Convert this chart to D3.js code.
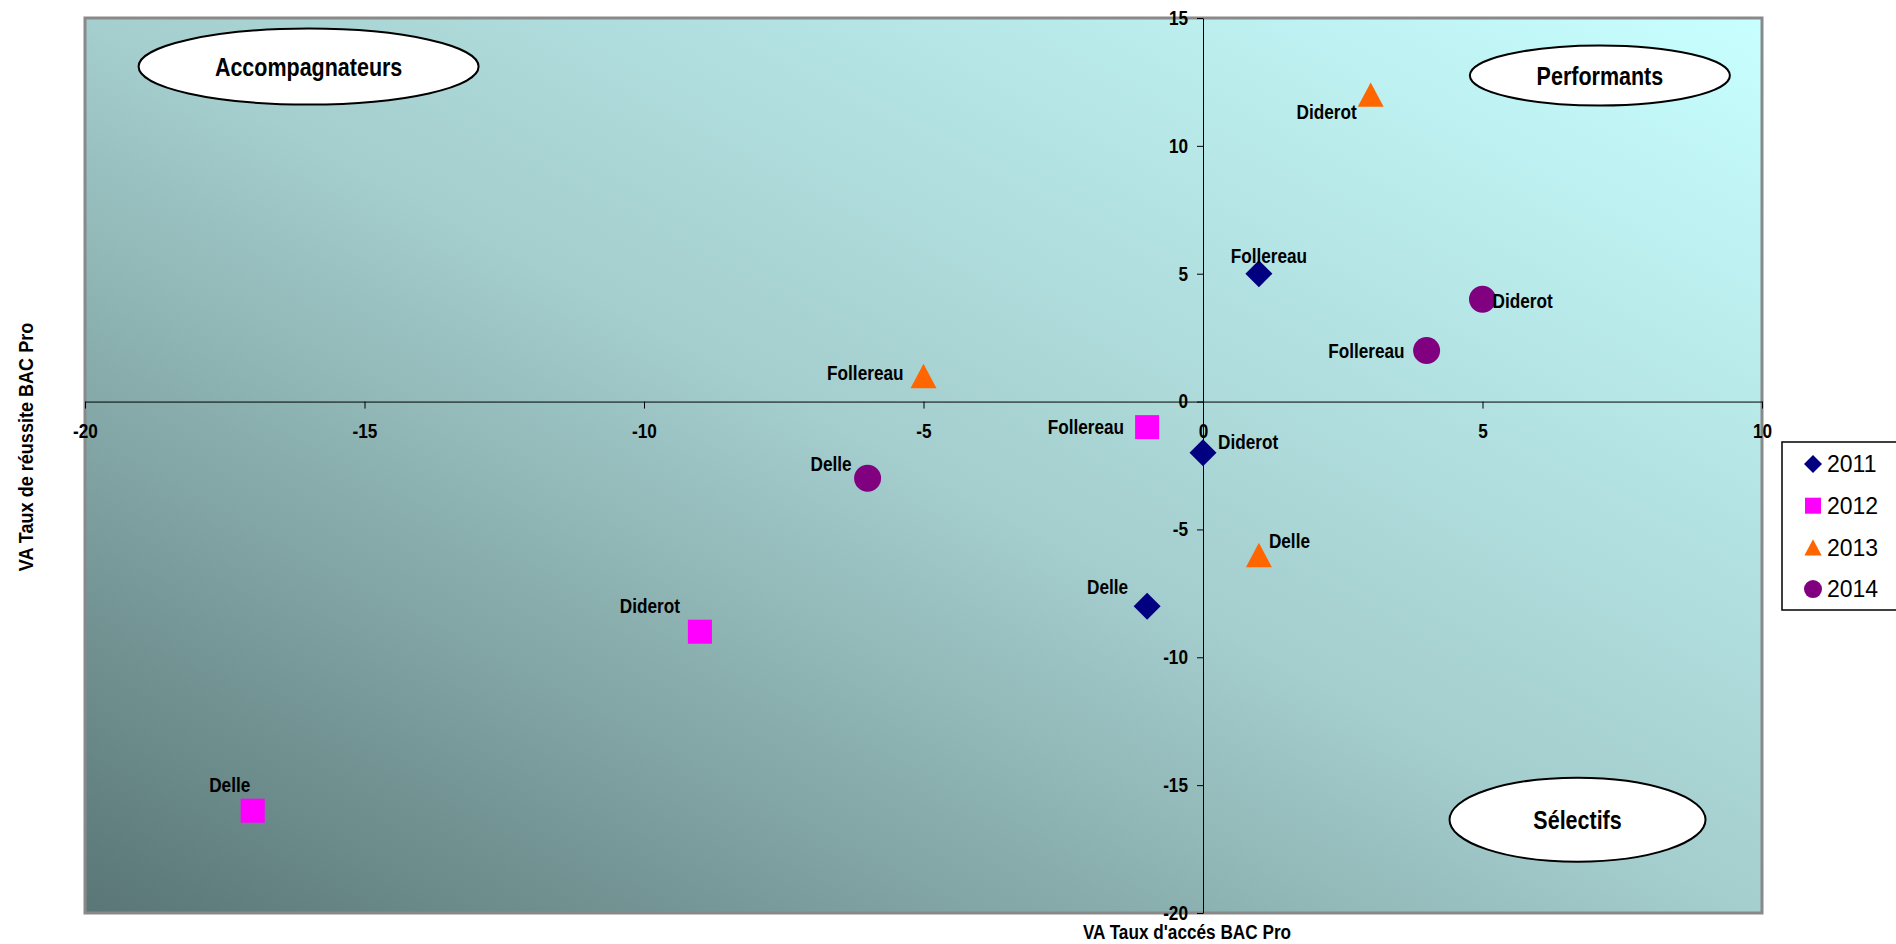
<!DOCTYPE html>
<html>
<head>
<meta charset="utf-8">
<script src="https://cdn.jsdelivr.net/npm/d3@7/dist/d3.min.js"></script>
<style>
  body { margin: 0; background: #fff; }
  svg { display: block; }
  .bold { font-family: "Liberation Sans", Arial, sans-serif; font-weight: bold; }
  .axis text { font-family: "Liberation Sans", Arial, sans-serif; font-weight: bold; font-size: 20px; fill: #000; }
  .axis path, .axis line { stroke: #000; stroke-width: 1px; }
</style>
</head>
<body>
<svg id="chart" width="1896" height="944"></svg>
<script>
////// DATA //////
var years = ["2011", "2012", "2013", "2014"];
var schools = ["Follereau", "Diderot", "Delle"];
// VA Taux d'accés (x) per year, in schools order
var accesValues = [
  [1, 0, -1],
  [-1, -9, -17],
  [-5, 3, 1],
  [4, 5, -6]
];
// VA Taux de réussite (y) per year, in schools order
var reussiteValues = [
  [5, -2, -8],
  [-1, -9, -16],
  [1, 12, -6],
  [2, 4, -3]
];
var xTicks = [-20, -15, -10, -5, 0, 5, 10];
var yTicks = [-20, -15, -10, -5, 0, 5, 10, 15];
var quadrants = [
  { name: "Accompagnateurs", x: -16, y: 13.1 },
  { name: "Performants", x: 7.1, y: 12.75 },
  { name: "Sélectifs", x: 6.7, y: -16.35 }
];
/////////

// label nudges [dx, dy, anchor] per year / school (layout only)
var labelNudge = [
  [[10, -18, "middle"], [15, -11, "start"], [-19, -19, "end"]],
  [[-23, 0, "end"], [-20, -26, "end"], [-23, -26, "middle"]],
  [[-20, -3, "end"], [-14, 17, "end"], [10, -14, "start"]],
  [[-22, 0, "end"], [10, 2, "start"], [-16, -14, "end"]]
];
var colors = ["#000080", "#ff00ff", "#ff6600", "#800080"];
var shapes = ["diamond", "square", "triangle", "circle"];

var svg = d3.select("#chart");
var plot = {left: 85, right: 1762, top: 18, bottom: 913};
var SQUEEZE = 0.86; // the original uses a narrow bold face

// turn x/y of texts into a translate + horizontal squeeze
function narrow(sel) {
  sel.each(function() {
    var t = d3.select(this);
    var tx = +t.attr("x") || 0, ty = +t.attr("y") || 0;
    var prev = t.attr("transform") || "";
    t.attr("x", null).attr("y", null)
      .attr("transform", prev + " translate(" + tx + "," + ty + ") scale(" + SQUEEZE + ",1)");
  });
}

var x = d3.scaleLinear().domain([-20, 10]).range([plot.left, plot.right]);
var y = d3.scaleLinear().domain([-20, 15]).range([plot.bottom, plot.top]);

var defs = svg.append("defs");
var grad = defs.append("linearGradient")
  .attr("id", "bg")
  .attr("x1", 0).attr("y1", 1).attr("x2", 1).attr("y2", 0);
grad.append("stop").attr("offset", "0%").attr("stop-color", "#5a7676");
grad.append("stop").attr("offset", "50%").attr("stop-color", "#a5cece");
grad.append("stop").attr("offset", "100%").attr("stop-color", "#c8ffff");

svg.append("rect")
  .attr("x", plot.left).attr("y", plot.top)
  .attr("width", plot.right - plot.left).attr("height", plot.bottom - plot.top)
  .attr("fill", "url(#bg)")
  .attr("stroke", "#898989").attr("stroke-width", 3);

// axes crossing at 0
var fmt = function(d) { return String(d); };
var xAxis = d3.axisBottom(x).tickValues(xTicks).tickFormat(fmt).tickSize(7).tickSizeOuter(0).tickPadding(15);
var yAxis = d3.axisLeft(y).tickValues(yTicks).tickFormat(fmt).tickSize(6).tickSizeOuter(0).tickPadding(9);

var gx = svg.append("g")
  .attr("class", "axis")
  .attr("transform", "translate(0," + y(0) + ")")
  .call(xAxis);
gx.selectAll(".tick text").call(narrow);

var gy = svg.append("g")
  .attr("class", "axis")
  .attr("transform", "translate(" + x(0) + ",0)")
  .call(yAxis);
gy.selectAll(".tick text").call(narrow);

// quadrant ellipses
var quadSize = { "Accompagnateurs": [170, 38], "Performants": [130, 30], "Sélectifs": [128, 42] };
var q = svg.selectAll(".quad").data(quadrants).enter().append("g")
  .attr("class", "quad")
  .attr("transform", function(d) { return "translate(" + x(d.x) + "," + y(d.y) + ")"; });
q.append("ellipse")
  .attr("rx", function(d) { return quadSize[d.name][0]; })
  .attr("ry", function(d) { return quadSize[d.name][1]; })
  .attr("fill", "#fff").attr("stroke", "#000").attr("stroke-width", 2);
q.append("text")
  .attr("class", "bold")
  .attr("text-anchor", "middle")
  .attr("dy", "0.36em")
  .attr("font-size", "25px")
  .text(function(d) { return d.name; })
  .call(narrow);

function markerPath(shape, s) {
  // s = half size
  if (shape === "diamond") return "M0," + (-s) + "L" + s + ",0L0," + s + "L" + (-s) + ",0Z";
  if (shape === "square") { var h = s * 0.89; return "M" + (-h) + "," + (-h) + "H" + h + "V" + h + "H" + (-h) + "Z"; }
  if (shape === "triangle") { var w = s * 0.96, t = s * 0.9; return "M0," + (-t) + "L" + w + "," + t + "L" + (-w) + "," + t + "Z"; }
  return "M" + s + ",0A" + s + "," + s + " 0 1,1 " + (-s) + ",0A" + s + "," + s + " 0 1,1 " + s + ",0Z";
}

// points
var points = [];
years.forEach(function(yr, i) {
  schools.forEach(function(sc, j) {
    points.push({ year: i, school: sc, vx: accesValues[i][j], vy: reussiteValues[i][j], nudge: labelNudge[i][j] });
  });
});

svg.selectAll(".pt").data(points).enter().append("path")
  .attr("class", "pt")
  .attr("transform", function(d) { return "translate(" + x(d.vx) + "," + y(d.vy) + ")"; })
  .attr("d", function(d) { return markerPath(shapes[d.year], 13.5); })
  .attr("fill", function(d) { return colors[d.year]; });

svg.selectAll(".lbl").data(points).enter().append("text")
  .attr("class", "lbl bold")
  .attr("font-size", "20px")
  .attr("x", function(d) { return x(d.vx) + d.nudge[0]; })
  .attr("y", function(d) { return y(d.vy) + d.nudge[1]; })
  .attr("dy", "0.36em")
  .attr("text-anchor", function(d) { return d.nudge[2]; })
  .text(function(d) { return d.school; })
  .call(narrow);

// axis titles
svg.append("text")
  .attr("class", "bold")
  .attr("font-size", "21px")
  .attr("text-anchor", "middle")
  .attr("transform", "translate(25,447) rotate(-90)")
  .attr("dy", "0.36em")
  .text("VA Taux de réussite BAC Pro")
  .call(narrow);

svg.append("text")
  .attr("class", "bold")
  .attr("font-size", "20px")
  .attr("text-anchor", "middle")
  .attr("x", 1187).attr("y", 939)
  .text("VA Taux d'accés BAC Pro")
  .call(narrow);

// legend
var legend = svg.append("g").attr("transform", "translate(1782,442)");
legend.append("rect")
  .attr("width", 118).attr("height", 168)
  .attr("fill", "#fff").attr("stroke", "#000").attr("stroke-width", 1.5);
var li = legend.selectAll(".li").data(years).enter().append("g")
  .attr("class", "li")
  .attr("transform", function(d, i) { return "translate(31," + (22 + i * 41.7) + ")"; });
li.append("path")
  .attr("d", function(d, i) { return markerPath(shapes[i], 9); })
  .attr("fill", function(d, i) { return colors[i]; });
li.append("text")
  .attr("x", 14)
  .attr("dy", "0.36em")
  .attr("font-family", "'Liberation Sans', Arial, sans-serif")
  .attr("font-size", "23px")
  .text(function(d) { return d; });
</script>
</body>
</html>
